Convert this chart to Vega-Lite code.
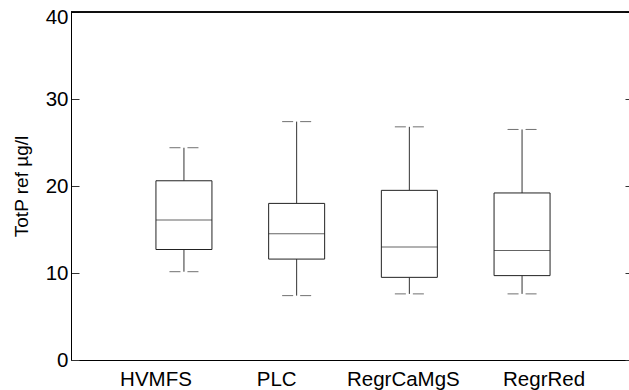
{
  "$schema": "https://vega.github.io/schema/vega-lite/v6.json",
  "autosize": {"type": "none"},
  "width": 558,
  "height": 348,
  "padding": {"left": 71, "top": 12, "right": 0, "bottom": 30},
  "background": "white",
  "config": {
    "view": {"stroke": null},
    "font": "Liberation Sans",
    "axis": {"grid": false, "labelFont": "Liberation Sans", "titleFont": "Liberation Sans", "labelColor": "#000", "titleColor": "#000", "domainColor": "#000", "tickColor": "#333"}
  },
  "data": {
    "values": [
      {"cat": "HVMFS", "min": 10.15, "q1": 12.7, "med": 16.1, "q3": 20.6, "max": 24.4},
      {"cat": "PLC", "min": 7.4, "q1": 11.6, "med": 14.5, "q3": 18.0, "max": 27.4},
      {"cat": "RegrCaMgS", "min": 7.6, "q1": 9.5, "med": 13.0, "q3": 19.5, "max": 26.8},
      {"cat": "RegrRed", "min": 7.6, "q1": 9.7, "med": 12.6, "q3": 19.2, "max": 26.5}
    ]
  },
  "resolve": {"axis": {"y": "independent"}},
  "layer": [
    {
      "encoding": {
        "x": {
          "field": "cat", "type": "nominal", "sort": null,
          "scale": {"paddingInner": 0, "paddingOuter": 0.4756, "align": 0.528},
          "axis": {
            "title": null, "ticks": false, "labelAngle": 0, "labelFontSize": 20.5, "labelPadding": 9,
            "labelOffset": {
              "condition": [
                {"test": "datum.value == 'HVMFS'", "value": -28},
                {"test": "datum.value == 'PLC'", "value": -20},
                {"test": "datum.value == 'RegrCaMgS'", "value": -6}
              ],
              "value": 22
            }
          }
        }
      },
      "layer": [
        {
          "mark": {"type": "rule", "color": "#333", "strokeWidth": 1},
          "encoding": {
            "y": {"field": "q3", "type": "quantitative", "scale": {"domain": [0, 40], "nice": false},
              "axis": {"title": "TotP ref µg/l", "titleFontSize": 19, "titleFontWeight": "normal", "titlePadding": 14,
                "values": [0, 10, 20, 30, 40], "tickSize": -8, "labelFontSize": 20.5, "labelPadding": 11,
                "labelOffset": {"condition": {"test": "datum.value == 40", "value": 5}, "value": 0}}},
            "y2": {"field": "max"}
          }
        },
        {
          "mark": {"type": "rule", "color": "#333", "strokeWidth": 1},
          "encoding": {
            "y": {"field": "min", "type": "quantitative"},
            "y2": {"field": "q1"}
          }
        },
        {
          "mark": {"type": "bar", "size": 56, "fill": "white", "stroke": "#222", "strokeWidth": 1},
          "encoding": {
            "y": {"field": "q1", "type": "quantitative"},
            "y2": {"field": "q3"}
          }
        },
        {
          "mark": {"type": "tick", "size": 56, "thickness": 1, "color": "#222"},
          "encoding": {"y": {"field": "med", "type": "quantitative"}}
        },
        {
          "transform": [{"fold": ["min", "max"], "as": ["stat", "val"]}],
          "mark": {"type": "tick", "size": 11, "thickness": 1, "color": "#333", "xOffset": -9},
          "encoding": {"y": {"field": "val", "type": "quantitative"}}
        },
        {
          "transform": [{"fold": ["min", "max"], "as": ["stat", "val"]}],
          "mark": {"type": "tick", "size": 11, "thickness": 1, "color": "#333", "xOffset": 9},
          "encoding": {"y": {"field": "val", "type": "quantitative"}}
        }
      ]
    },
    {
      "mark": {"type": "rule", "color": "#000", "strokeWidth": 1},
      "encoding": {
        "y": {"datum": 40, "type": "quantitative", "scale": {"domain": [0, 40], "nice": false},
          "axis": {"orient": "right", "title": null, "labels": false, "domain": false, "values": [0, 10, 20, 30, 40], "tickSize": -4}}
      }
    }
  ]
}
